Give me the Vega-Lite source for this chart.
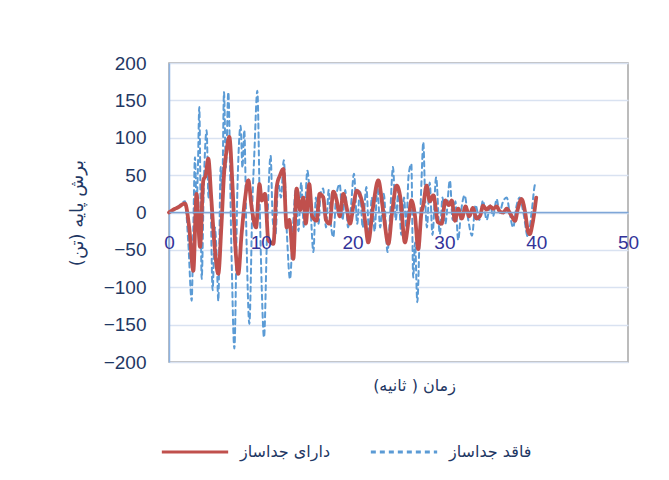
{
  "$schema": "https://vega.github.io/schema/vega-lite/v6.json",
  "width": 459,
  "height": 299,
  "autosize": {"type": "none"},
  "padding": {"left": 169, "top": 63, "right": 41, "bottom": 118},
  "background": "#ffffff",
  "config": {"view": {"stroke": "#a6a6a6", "strokeWidth": 1.5}, "font": "Liberation Sans"},
  "data": {"values": [
    {"t":0,"v":0,"s":"فاقد جداساز"},{"t":0.5,"v":4,"s":"فاقد جداساز"},{"t":1,"v":8,"s":"فاقد جداساز"},{"t":1.74,"v":15,"s":"فاقد جداساز"},{"t":2.1,"v":-40,"s":"فاقد جداساز"},{"t":2.47,"v":-118,"s":"فاقد جداساز"},{"t":2.65,"v":-20,"s":"فاقد جداساز"},{"t":2.83,"v":74,"s":"فاقد جداساز"},{"t":3.0,"v":10,"s":"فاقد جداساز"},{"t":3.15,"v":60,"s":"فاقد جداساز"},{"t":3.3,"v":141,"s":"فاقد جداساز"},{"t":3.45,"v":0,"s":"فاقد جداساز"},{"t":3.56,"v":-89,"s":"فاقد جداساز"},{"t":3.8,"v":40,"s":"فاقد جداساز"},{"t":4.1,"v":110,"s":"فاقد جداساز"},{"t":4.3,"v":20,"s":"فاقد جداساز"},{"t":4.45,"v":60,"s":"فاقد جداساز"},{"t":4.75,"v":-104,"s":"فاقد جداساز"},{"t":5.0,"v":-20,"s":"فاقد جداساز"},{"t":5.2,"v":-60,"s":"فاقد جداساز"},{"t":5.37,"v":-118,"s":"فاقد جداساز"},{"t":5.63,"v":61,"s":"فاقد جداساز"},{"t":5.8,"v":30,"s":"فاقد جداساز"},{"t":5.99,"v":161,"s":"فاقد جداساز"},{"t":6.2,"v":60,"s":"فاقد جداساز"},{"t":6.46,"v":161,"s":"فاقد جداساز"},{"t":6.8,"v":-50,"s":"فاقد جداساز"},{"t":7.12,"v":-182,"s":"فاقد جداساز"},{"t":7.45,"v":30,"s":"فاقد جداساز"},{"t":7.8,"v":116,"s":"فاقد جداساز"},{"t":8.0,"v":60,"s":"فاقد جداساز"},{"t":8.2,"v":110,"s":"فاقد جداساز"},{"t":8.45,"v":-40,"s":"فاقد جداساز"},{"t":8.75,"v":-149,"s":"فاقد جداساز"},{"t":9.1,"v":20,"s":"فاقد جداساز"},{"t":9.3,"v":80,"s":"فاقد جداساز"},{"t":9.62,"v":163,"s":"فاقد جداساز"},{"t":9.9,"v":0,"s":"فاقد جداساز"},{"t":10.1,"v":-100,"s":"فاقد جداساز"},{"t":10.35,"v":-167,"s":"فاقد جداساز"},{"t":10.7,"v":-20,"s":"فاقد جداساز"},{"t":11.07,"v":76,"s":"فاقد جداساز"},{"t":11.3,"v":-10,"s":"فاقد جداساز"},{"t":11.6,"v":-30,"s":"فاقد جداساز"},{"t":11.9,"v":40,"s":"فاقد جداساز"},{"t":12.2,"v":20,"s":"فاقد جداساز"},{"t":12.5,"v":70,"s":"فاقد جداساز"},{"t":12.85,"v":-30,"s":"فاقد جداساز"},{"t":13.18,"v":-89,"s":"فاقد جداساز"},{"t":13.5,"v":-20,"s":"فاقد جداساز"},{"t":13.8,"v":30,"s":"فاقد جداساز"},{"t":14.1,"v":-25,"s":"فاقد جداساز"},{"t":14.4,"v":40,"s":"فاقد جداساز"},{"t":14.7,"v":-20,"s":"فاقد جداساز"},{"t":15.07,"v":56,"s":"فاقد جداساز"},{"t":15.4,"v":10,"s":"فاقد جداساز"},{"t":15.73,"v":-53,"s":"فاقد جداساز"},{"t":16.0,"v":20,"s":"فاقد جداساز"},{"t":16.3,"v":-15,"s":"فاقد جداساز"},{"t":16.5,"v":25,"s":"فاقد جداساز"},{"t":16.8,"v":32,"s":"فاقد جداساز"},{"t":17.1,"v":-20,"s":"فاقد جداساز"},{"t":17.4,"v":30,"s":"فاقد جداساز"},{"t":17.6,"v":-10,"s":"فاقد جداساز"},{"t":17.9,"v":-33,"s":"فاقد جداساز"},{"t":18.2,"v":20,"s":"فاقد جداساز"},{"t":18.6,"v":38,"s":"فاقد جداساز"},{"t":18.9,"v":-10,"s":"فاقد جداساز"},{"t":19.2,"v":30,"s":"فاقد جداساز"},{"t":19.5,"v":-20,"s":"فاقد جداساز"},{"t":19.8,"v":5,"s":"فاقد جداساز"},{"t":20.15,"v":52,"s":"فاقد جداساز"},{"t":20.5,"v":-15,"s":"فاقد جداساز"},{"t":20.8,"v":30,"s":"فاقد جداساز"},{"t":21.1,"v":-20,"s":"فاقد جداساز"},{"t":21.5,"v":34,"s":"فاقد جداساز"},{"t":21.8,"v":-30,"s":"فاقد جداساز"},{"t":22.1,"v":20,"s":"فاقد جداساز"},{"t":22.4,"v":-25,"s":"فاقد جداساز"},{"t":22.7,"v":35,"s":"فاقد جداساز"},{"t":23.0,"v":-20,"s":"فاقد جداساز"},{"t":23.4,"v":25,"s":"فاقد جداساز"},{"t":23.8,"v":-53,"s":"فاقد جداساز"},{"t":24.1,"v":0,"s":"فاقد جداساز"},{"t":24.4,"v":61,"s":"فاقد جداساز"},{"t":24.7,"v":-10,"s":"فاقد جداساز"},{"t":25.0,"v":30,"s":"فاقد جداساز"},{"t":25.3,"v":-30,"s":"فاقد جداساز"},{"t":25.6,"v":20,"s":"فاقد جداساز"},{"t":25.85,"v":-20,"s":"فاقد جداساز"},{"t":26.1,"v":50,"s":"فاقد جداساز"},{"t":26.4,"v":65,"s":"فاقد جداساز"},{"t":26.6,"v":-87,"s":"فاقد جداساز"},{"t":26.8,"v":-40,"s":"فاقد جداساز"},{"t":27.05,"v":-120,"s":"فاقد جداساز"},{"t":27.3,"v":-30,"s":"فاقد جداساز"},{"t":27.5,"v":40,"s":"فاقد جداساز"},{"t":27.7,"v":94,"s":"فاقد جداساز"},{"t":27.9,"v":20,"s":"فاقد جداساز"},{"t":28.1,"v":-20,"s":"فاقد جداساز"},{"t":28.4,"v":40,"s":"فاقد جداساز"},{"t":28.7,"v":-30,"s":"فاقد جداساز"},{"t":29.1,"v":47,"s":"فاقد جداساز"},{"t":29.5,"v":-29,"s":"فاقد جداساز"},{"t":29.8,"v":20,"s":"فاقد جداساز"},{"t":30.1,"v":-15,"s":"فاقد جداساز"},{"t":30.6,"v":43,"s":"فاقد جداساز"},{"t":30.9,"v":-10,"s":"فاقد جداساز"},{"t":31.2,"v":15,"s":"فاقد جداساز"},{"t":31.5,"v":-37,"s":"فاقد جداساز"},{"t":31.8,"v":0,"s":"فاقد جداساز"},{"t":32.2,"v":23,"s":"فاقد جداساز"},{"t":32.6,"v":-10,"s":"فاقد جداساز"},{"t":33.0,"v":-31,"s":"فاقد جداساز"},{"t":33.4,"v":10,"s":"فاقد جداساز"},{"t":33.8,"v":-10,"s":"فاقد جداساز"},{"t":34.2,"v":16,"s":"فاقد جداساز"},{"t":34.6,"v":-10,"s":"فاقد جداساز"},{"t":35.0,"v":10,"s":"فاقد جداساز"},{"t":35.3,"v":-5,"s":"فاقد جداساز"},{"t":35.7,"v":18,"s":"فاقد جداساز"},{"t":36.0,"v":0,"s":"فاقد جداساز"},{"t":36.4,"v":15,"s":"فاقد جداساز"},{"t":36.8,"v":20,"s":"فاقد جداساز"},{"t":37.1,"v":0,"s":"فاقد جداساز"},{"t":37.5,"v":-20,"s":"فاقد جداساز"},{"t":37.8,"v":5,"s":"فاقد جداساز"},{"t":38.2,"v":20,"s":"فاقد جداساز"},{"t":38.6,"v":0,"s":"فاقد جداساز"},{"t":39.1,"v":-33,"s":"فاقد جداساز"},{"t":39.5,"v":0,"s":"فاقد جداساز"},{"t":39.9,"v":38,"s":"فاقد جداساز"},{"t":40.0,"v":35,"s":"فاقد جداساز"},
    {"t":0,"v":0,"s":"دارای جداساز"},{"t":0.5,"v":4,"s":"دارای جداساز"},{"t":1,"v":7,"s":"دارای جداساز"},{"t":1.74,"v":12,"s":"دارای جداساز"},{"t":2.2,"v":-20,"s":"دارای جداساز"},{"t":2.65,"v":-78,"s":"دارای جداساز"},{"t":3.0,"v":25,"s":"دارای جداساز"},{"t":3.38,"v":-46,"s":"دارای جداساز"},{"t":3.74,"v":43,"s":"دارای جداساز"},{"t":4.0,"v":50,"s":"دارای جداساز"},{"t":4.28,"v":72,"s":"دارای جداساز"},{"t":4.6,"v":20,"s":"دارای جداساز"},{"t":5.0,"v":-50,"s":"دارای جداساز"},{"t":5.37,"v":-82,"s":"دارای جداساز"},{"t":5.7,"v":-20,"s":"دارای جداساز"},{"t":6.0,"v":52,"s":"دارای جداساز"},{"t":6.3,"v":85,"s":"دارای جداساز"},{"t":6.57,"v":101,"s":"دارای جداساز"},{"t":6.9,"v":40,"s":"دارای جداساز"},{"t":7.2,"v":-40,"s":"دارای جداساز"},{"t":7.55,"v":-82,"s":"دارای جداساز"},{"t":7.9,"v":-30,"s":"دارای جداساز"},{"t":8.3,"v":20,"s":"دارای جداساز"},{"t":8.64,"v":43,"s":"دارای جداساز"},{"t":9.0,"v":7,"s":"دارای جداساز"},{"t":9.48,"v":-20,"s":"دارای جداساز"},{"t":9.86,"v":38,"s":"دارای جداساز"},{"t":10.1,"v":16,"s":"دارای جداساز"},{"t":10.46,"v":25,"s":"دارای جداساز"},{"t":10.82,"v":-37,"s":"دارای جداساز"},{"t":11.1,"v":-40,"s":"دارای جداساز"},{"t":11.37,"v":-42,"s":"دارای جداساز"},{"t":11.73,"v":34,"s":"دارای جداساز"},{"t":12.1,"v":50,"s":"دارای جداساز"},{"t":12.45,"v":58,"s":"دارای جداساز"},{"t":12.82,"v":-20,"s":"دارای جداساز"},{"t":13.1,"v":-10,"s":"دارای جداساز"},{"t":13.54,"v":-62,"s":"دارای جداساز"},{"t":13.9,"v":32,"s":"دارای جداساز"},{"t":14.27,"v":3,"s":"دارای جداساز"},{"t":14.63,"v":20,"s":"دارای جداساز"},{"t":14.9,"v":-15,"s":"دارای جداساز"},{"t":15.28,"v":38,"s":"دارای جداساز"},{"t":15.6,"v":-5,"s":"دارای جداساز"},{"t":16.09,"v":-11,"s":"دارای جداساز"},{"t":16.4,"v":25,"s":"دارای جداساز"},{"t":16.8,"v":20,"s":"دارای جداساز"},{"t":17.1,"v":-10,"s":"دارای جداساز"},{"t":17.5,"v":-15,"s":"دارای جداساز"},{"t":17.9,"v":28,"s":"دارای جداساز"},{"t":18.27,"v":16,"s":"دارای جداساز"},{"t":18.6,"v":-5,"s":"دارای جداساز"},{"t":18.99,"v":25,"s":"دارای جداساز"},{"t":19.3,"v":10,"s":"دارای جداساز"},{"t":19.72,"v":-15,"s":"دارای جداساز"},{"t":20.1,"v":10,"s":"دارای جداساز"},{"t":20.45,"v":29,"s":"دارای جداساز"},{"t":21.0,"v":16,"s":"دارای جداساز"},{"t":21.4,"v":-15,"s":"دارای جداساز"},{"t":21.7,"v":-40,"s":"دارای جداساز"},{"t":22.2,"v":5,"s":"دارای جداساز"},{"t":22.8,"v":43,"s":"دارای جداساز"},{"t":23.3,"v":5,"s":"دارای جداساز"},{"t":23.9,"v":-42,"s":"دارای جداساز"},{"t":24.3,"v":0,"s":"دارای جداساز"},{"t":24.8,"v":36,"s":"دارای جداساز"},{"t":25.2,"v":20,"s":"دارای جداساز"},{"t":25.7,"v":-40,"s":"دارای جداساز"},{"t":26.1,"v":-10,"s":"دارای جداساز"},{"t":26.4,"v":16,"s":"دارای جداساز"},{"t":26.8,"v":-5,"s":"دارای جداساز"},{"t":27.15,"v":-49,"s":"دارای جداساز"},{"t":27.5,"v":0,"s":"دارای جداساز"},{"t":27.7,"v":10,"s":"دارای جداساز"},{"t":28.06,"v":36,"s":"دارای جداساز"},{"t":28.4,"v":15,"s":"دارای جداساز"},{"t":28.8,"v":23,"s":"دارای جداساز"},{"t":29.3,"v":-13,"s":"دارای جداساز"},{"t":29.7,"v":-15,"s":"دارای جداساز"},{"t":30.1,"v":16,"s":"دارای جداساز"},{"t":30.5,"v":10,"s":"دارای جداساز"},{"t":30.8,"v":16,"s":"دارای جداساز"},{"t":31.15,"v":-11,"s":"دارای جداساز"},{"t":31.5,"v":5,"s":"دارای جداساز"},{"t":31.9,"v":-8,"s":"دارای جداساز"},{"t":32.3,"v":8,"s":"دارای جداساز"},{"t":32.7,"v":-5,"s":"دارای جداساز"},{"t":33.1,"v":6,"s":"دارای جداساز"},{"t":33.5,"v":-8,"s":"دارای جداساز"},{"t":33.9,"v":-4,"s":"دارای جداساز"},{"t":34.2,"v":9,"s":"دارای جداساز"},{"t":34.6,"v":4,"s":"دارای جداساز"},{"t":35.0,"v":8,"s":"دارای جداساز"},{"t":35.3,"v":5,"s":"دارای جداساز"},{"t":35.7,"v":8,"s":"دارای جداساز"},{"t":36.0,"v":2,"s":"دارای جداساز"},{"t":36.4,"v":0,"s":"دارای جداساز"},{"t":36.8,"v":5,"s":"دارای جداساز"},{"t":37.2,"v":-2,"s":"دارای جداساز"},{"t":37.7,"v":-11,"s":"دارای جداساز"},{"t":38.0,"v":5,"s":"دارای جداساز"},{"t":38.4,"v":18,"s":"دارای جداساز"},{"t":38.8,"v":0,"s":"دارای جداساز"},{"t":39.1,"v":-25,"s":"دارای جداساز"},{"t":39.3,"v":-29,"s":"دارای جداساز"},{"t":39.6,"v":-15,"s":"دارای جداساز"},{"t":40.0,"v":20,"s":"دارای جداساز"}
  ]},
  "mark": {"type": "line", "interpolate": "monotone", "strokeCap": "round", "strokeJoin": "round"},
  "encoding": {
    "x": {"field": "t", "type": "quantitative",
      "scale": {"domain": [0, 50], "nice": false, "zero": false},
      "axis": {"values": [0, 10, 20, 30, 40, 50], "grid": false, "offset": -150, "ticks": false,
        "domainColor": "#7ea6d8", "domainWidth": 1.5, "labelFontSize": 19, "labelColor": "#333399",
        "labelPadding": 21, "labelFlush": false, "labelOverlap": false, "zindex": 1,
        "title": "زمان ( ثانیه)", "titleFont": "DejaVu Sans", "titleFontSize": 16, "titleFontWeight": "normal",
        "titleColor": "#1f3864", "titleX": 245, "titleY": 173, "titleBaseline": "middle", "titleAlign": "center", "titleAnchor": null}},
    "y": {"field": "v", "type": "quantitative",
      "scale": {"domain": [-200, 200], "nice": false},
      "axis": {"values": [-200, -150, -100, -50, 0, 50, 100, 150, 200], "grid": true, "gridColor": "#d9e2f1", "gridWidth": 1.3,
        "domainColor": "#8eb4e3", "domainWidth": 1.5, "ticks": false, "labelFontSize": 19, "labelColor": "#1f3864",
        "labelPadding": 23, "title": "برش پایه (تن)", "titleFont": "DejaVu Sans", "titleFontSize": 18, "titleFontWeight": "normal",
        "titleColor": "#1f3864", "titlePadding": 17}},
    "color": {"field": "s", "type": "nominal",
      "scale": {"domain": ["دارای جداساز", "فاقد جداساز"], "range": ["#c0504d", "#5b9bd5"]},
      "legend": {"title": null, "orient": "none", "legendX": -9, "legendY": 354, "direction": "horizontal",
        "symbolType": "stroke", "symbolSize": 4400, "symbolStrokeWidth": 3, "labelFont": "DejaVu Sans",
        "labelFontSize": 16, "labelColor": "#1f3864", "labelOffset": 10, "columnPadding": 33}},
    "strokeDash": {"field": "s", "type": "nominal",
      "scale": {"domain": ["دارای جداساز", "فاقد جداساز"], "range": [[1, 0], [5, 4]]},
      "legend": {"title": null, "orient": "none", "legendX": -9, "legendY": 354, "direction": "horizontal",
        "symbolType": "stroke", "symbolSize": 4400, "symbolStrokeWidth": 3, "labelFont": "DejaVu Sans",
        "labelFontSize": 16, "labelColor": "#1f3864", "labelOffset": 10, "columnPadding": 33}},
    "strokeWidth": {"condition": {"test": "datum.s === 'دارای جداساز'", "value": 3.8}, "value": 2}
  }
}
